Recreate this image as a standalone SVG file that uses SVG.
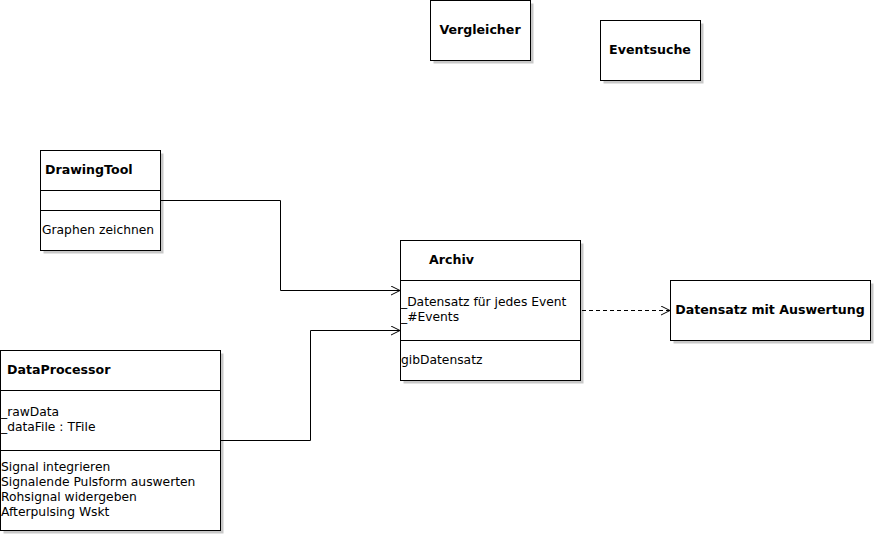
<svg xmlns="http://www.w3.org/2000/svg" width="875" height="535" viewBox="0 0 875 535">
<style>
.box{fill:#fff;stroke:#000;stroke-width:1}
.sh{fill:#c8c8c8}
.div{stroke:#000;stroke-width:1}
text{font-family:"DejaVu Sans",sans-serif;font-size:12.3px;fill:#000}
.b{font-weight:bold;font-size:12.6px}
.m{text-anchor:middle}
.c{fill:none;stroke:#000;stroke-width:1}
.d{stroke-dasharray:4,3}
</style>
<defs>
<marker id="open" markerWidth="12" markerHeight="12" refX="9" refY="5" orient="auto" markerUnits="userSpaceOnUse">
<path d="M0,0.5 L9,5 L0,9.5" fill="none" stroke="#000" stroke-width="1"/>
</marker>
</defs>
<rect width="875" height="535" fill="#fff"/>
<g id="Vergleicher">
<rect class="sh" x="433.5" y="3.5" width="100" height="60"/>
<rect class="box" x="430.5" y="0.5" width="100" height="60"/>
<text class="b m" x="480" y="34">Vergleicher</text>
</g>
<g id="Eventsuche">
<rect class="sh" x="603.5" y="23.5" width="100" height="60"/>
<rect class="box" x="600.5" y="20.5" width="100" height="60"/>
<text class="b m" x="650" y="54">Eventsuche</text>
</g>
<g id="DrawingTool">
<rect class="sh" x="43.5" y="153.5" width="120" height="100"/>
<rect class="box" x="40.5" y="150.5" width="120" height="100"/>
<line class="div" x1="40.5" y1="190.5" x2="160.5" y2="190.5"/>
<line class="div" x1="40.5" y1="210.5" x2="160.5" y2="210.5"/>
<text class="b" x="45" y="174">DrawingTool</text>
<text x="42" y="234">Graphen zeichnen</text>
</g>
<g id="DataProcessor">
<rect class="sh" x="3.5" y="353.5" width="220" height="180"/>
<rect class="box" x="0.5" y="350.5" width="220" height="180"/>
<line class="div" x1="0.5" y1="390.5" x2="220.5" y2="390.5"/>
<line class="div" x1="0.5" y1="450.5" x2="220.5" y2="450.5"/>
<text class="b" x="7" y="374">DataProcessor</text>
<text x="1" y="416">_rawData</text>
<text x="1" y="431">_dataFile : TFile</text>
<text x="1" y="471">Signal integrieren</text>
<text x="1" y="486">Signalende Pulsform auswerten</text>
<text x="1" y="501">Rohsignal widergeben</text>
<text x="1" y="516">Afterpulsing Wskt</text>
</g>
<g id="Archiv">
<rect class="sh" x="403.5" y="243.5" width="180" height="140"/>
<rect class="box" x="400.5" y="240.5" width="180" height="140"/>
<line class="div" x1="400.5" y1="280.5" x2="580.5" y2="280.5"/>
<line class="div" x1="400.5" y1="340.5" x2="580.5" y2="340.5"/>
<text class="b" x="429" y="264">Archiv</text>
<text x="401" y="306">_Datensatz für jedes Event</text>
<text x="401" y="321">_#Events</text>
<text x="401" y="364">gibDatensatz</text>
</g>
<g id="DatensatzMitAuswertung">
<rect class="sh" x="673.5" y="283.5" width="200" height="60"/>
<rect class="box" x="670.5" y="280.5" width="200" height="60"/>
<text class="b m" x="770" y="314">Datensatz mit Auswertung</text>
</g>
<g id="connectors">
<polyline class="c" points="160.5,200.5 280.5,200.5 280.5,290.5 400,290.5" marker-end="url(#open)"/>
<polyline class="c" points="220.5,440.5 310.5,440.5 310.5,330.5 400,330.5" marker-end="url(#open)"/>
<line class="c d" x1="582" y1="310.5" x2="670" y2="310.5" marker-end="url(#open)"/>
</g>
</svg>
